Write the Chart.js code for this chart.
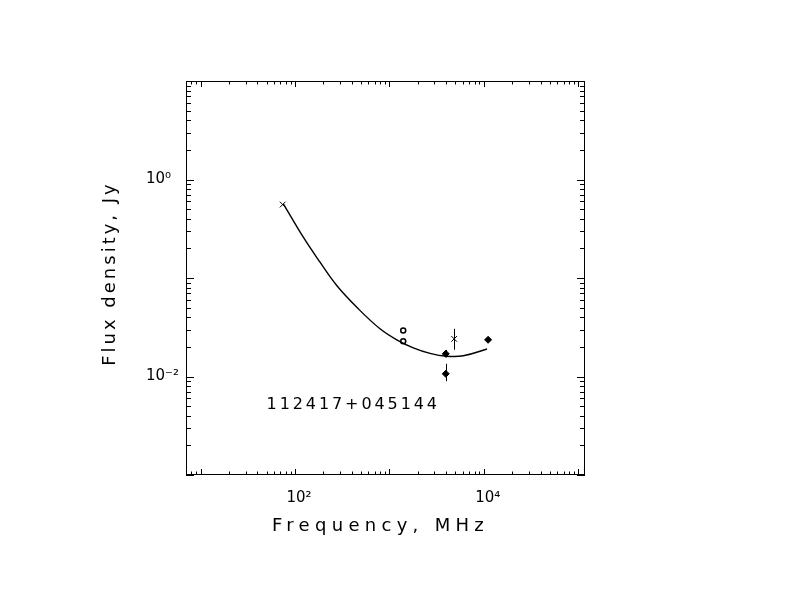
<!DOCTYPE html>
<html><head><meta charset="utf-8">
<script src="https://cdn.jsdelivr.net/npm/chart.js@4"></script>
<style>html,body{margin:0;padding:0;background:#fff;} #wrap{width:792px;height:612px;}</style>
</head><body><div id="wrap"><canvas id="c" width="792" height="612"></canvas></div>
<script>
// Fitted spectrum curve
const fitFreq = [75.2, 122.4, 184, 276.5, 468, 795, 1195, 1791, 2692, 4046, 6065, 10810];
const fitFlux = [0.567, 0.2596, 0.1447, 0.0839, 0.0487, 0.0305, 0.02358, 0.01956, 0.01719, 0.01607, 0.01623, 0.01902];
// Cross markers
const crossFreq = [74, 4850];
const crossFlux = [0.557, 0.0241];
const crossErrLo = [null, 0.0187];
const crossErrHi = [null, 0.0305];
// Open circles
const circleFreq = [1400, 1400];
const circleFlux = [0.0293, 0.0228];
// Filled diamonds
const dotFreq = [3950, 3950, 11100];
const dotFlux = [0.0170, 0.01065, 0.0236];
const dotErrLo = [0.0156, 0.00896, null];
const dotErrHi = [0.0186, 0.01346, null];
// Axis ticks
const xTickVals = [100, 10000];
const xTickLabels = ['10²', '10⁴'];
const yTickVals = [1, 0.01];
const yTickLabels = ['10⁰', '10⁻²'];
// Texts
const xTitle = 'Frequency, MHz';
const yTitle = 'Flux density, Jy';
const sourceName = '112417+045144';
const sourceLabelFreq = 50;
const sourceLabelFlux = 0.0054;

const pts = (xs, ys) => xs.map((v, i) => ({x: v, y: ys[i]}));

const decor = {
  id: 'decor',
  afterDraw(chart) {
    const {ctx, chartArea: a, scales: {x, y}} = chart;
    ctx.save();
    ctx.strokeStyle = '#000';
    ctx.fillStyle = '#000';
    ctx.lineWidth = 1;
    ctx.strokeRect(a.left + 0.5, a.top + 0.5, a.right - a.left - 1, a.bottom - a.top - 1);
    ctx.beginPath();
    for (let e = Math.floor(Math.log10(x.min)); e <= Math.ceil(Math.log10(x.max)); e++) {
      for (let m = 1; m <= 9; m++) {
        const v = m * Math.pow(10, e);
        if (v < x.min || v > x.max) continue;
        const px = Math.round(x.getPixelForValue(v)) + 0.5;
        const len = m === 1 ? 6 : 3.5;
        ctx.moveTo(px, a.bottom); ctx.lineTo(px, a.bottom - len);
        ctx.moveTo(px, a.top); ctx.lineTo(px, a.top + len);
      }
    }
    for (let e = Math.floor(Math.log10(y.min)); e <= Math.ceil(Math.log10(y.max)); e++) {
      for (let m = 1; m <= 9; m++) {
        const v = m * Math.pow(10, e);
        if (v < y.min || v > y.max) continue;
        const py = Math.round(y.getPixelForValue(v)) + 0.5;
        const len = m === 1 ? 8 : 5;
        ctx.moveTo(a.left, py); ctx.lineTo(a.left + len, py);
        ctx.moveTo(a.right, py); ctx.lineTo(a.right - len, py);
      }
    }
    ctx.stroke();
    // error bars
    ctx.beginPath();
    const bars = (fs, lo, hi) => fs.forEach((f, i) => {
      if (lo[i] == null) return;
      const px = Math.round(x.getPixelForValue(f)) + 0.5;
      ctx.moveTo(px, y.getPixelForValue(lo[i]));
      ctx.lineTo(px, y.getPixelForValue(hi[i]));
    });
    bars(crossFreq, crossErrLo, crossErrHi);
    bars(dotFreq, dotErrLo, dotErrHi);
    ctx.stroke();
    // titles
    ctx.font = '18px "DejaVu Sans"';
    ctx.textBaseline = 'alphabetic';
    ctx.letterSpacing = '5.3px';
    ctx.textAlign = 'center';
    ctx.fillText(xTitle, (a.left + a.right) / 2 - 5, a.bottom + 56);
    ctx.save();
    ctx.translate(a.left - 71, (a.top + a.bottom) / 2 - 3);
    ctx.rotate(-Math.PI / 2);
    ctx.letterSpacing = '3px';
    ctx.fillText(yTitle, 1.5, 0);
    ctx.restore();
    ctx.font = '16px "DejaVu Sans"';
    ctx.letterSpacing = '2.9px';
    ctx.textAlign = 'left';
    ctx.fillText(sourceName, x.getPixelForValue(sourceLabelFreq), y.getPixelForValue(sourceLabelFlux) + 6);
    ctx.restore();
  }
};

new Chart(document.getElementById('c'), {
  type: 'scatter',
  data: {
    datasets: [
      {data: pts(fitFreq, fitFlux), showLine: true, pointRadius: 0, borderColor: '#000', borderWidth: 1.4, tension: 0.4, fill: false},
      {data: pts(crossFreq, crossFlux), pointStyle: 'crossRot', pointRadius: 4, borderColor: '#000', borderWidth: 1},
      {data: pts(circleFreq, circleFlux), pointStyle: 'circle', pointRadius: 2.5, borderColor: '#000', backgroundColor: '#fff', borderWidth: 1.5},
      {data: pts(dotFreq, dotFlux), pointStyle: 'rectRot', pointRadius: 3.5, borderColor: '#000', backgroundColor: '#000', borderWidth: 1}
    ]
  },
  options: {
    responsive: false,
    animation: false,
    layout: {padding: {left: 146, top: 81, right: 207, bottom: 0}},
    plugins: {legend: {display: false}, tooltip: {enabled: false}},
    scales: {
      x: {
        type: 'logarithmic', min: 7, max: 118000, bounds: 'data',
        grid: {display: false, drawTicks: false}, border: {display: false},
        afterBuildTicks: s => { s.ticks = xTickVals.map(v => ({value: v})); },
        afterFit: s => { s.height = 137; },
        ticks: {autoSkip: false, maxRotation: 0, padding: 14, labelOffset: 4, color: '#000',
          font: {family: 'DejaVu Sans', size: 15}, callback: (v, i) => xTickLabels[i]}
      },
      y: {
        type: 'logarithmic', min: 0.001, max: 10, bounds: 'data',
        grid: {display: false, drawTicks: false}, border: {display: false},
        afterBuildTicks: s => { s.ticks = yTickVals.map(v => ({value: v})); },
        afterFit: s => { s.width = 40; },
        ticks: {autoSkip: false, crossAlign: 'far', padding: 0, color: '#000',
          font: {family: 'DejaVu Sans', size: 15}, callback: (v, i) => yTickLabels[i]}
      }
    }
  },
  plugins: [decor]
});
</script>
</body></html>
